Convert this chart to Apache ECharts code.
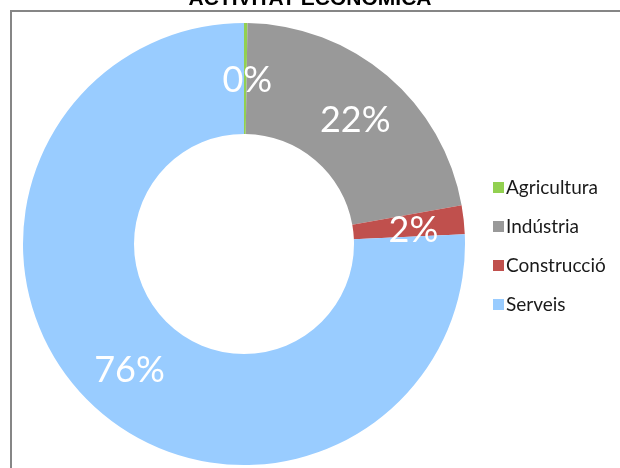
<!DOCTYPE html>
<html>
<head>
<meta charset="utf-8">
<script src="https://cdn.jsdelivr.net/npm/echarts@6/dist/echarts.min.js"></script>
<style>
  html, body { margin: 0; padding: 0; background: #fff; }
  #chart { width: 620px; height: 468px; }
</style>
</head>
<body>
<div id="chart"></div>
<script>
  // sectors and their shares (percent)
  const categories = ["Agricultura", "Indústria", "Construcció", "Serveis"];
  const shares = [0.25, 21.95, 2.1, 75.7];
  const labels = ["0%", "22%", "2%", "76%"];
  const colors = ["#92D050", "#999999", "#C0504D", "#99CCFF"];

  const chart = echarts.init(document.getElementById("chart"));

  let pieData = [];
  for (let i = 0; i < categories.length; i++) {
    pieData.push({
      name: categories[i],
      value: shares[i],
      itemStyle: { color: colors[i] },
      label: { formatter: labels[i] },
    });
  }

  const option = {
    animation: false,
    graphic: [
      // title, cut off at the top as in the original
      {
        type: "text",
        left: "center",
        top: -11,
        style: {
          text: "ACTIVITAT ECONÒMICA",
          font: "bold 21px 'Liberation Sans', Arial, sans-serif",
          fill: "#000",
        },
      },
      // frame of the chart area
      {
        type: "polyline",
        shape: { points: [[11, 468], [11, 11], [620, 11]] },
        style: { stroke: "#868686", lineWidth: 2, fill: null },
      },
    ],
    legend: {
      orient: "vertical",
      left: 488,
      top: 173,
      itemWidth: 11,
      itemHeight: 11,
      itemGap: 20,
      icon: "rect",
      textStyle: {
        fontFamily: "Lato, sans-serif",
        fontSize: 19,
        color: "#1a1a1a",
        padding: [0, 0, 0, -3],
      },
      data: categories,
    },
    series: [
      {
        type: "pie",
        center: [244, 244],
        radius: [110, 221],
        startAngle: 90,
        clockwise: true,
        silent: true,
        avoidLabelOverlap: false,
        label: {
          show: true,
          position: "inside",
          color: "#fff",
          fontFamily: "Lato, sans-serif",
          fontSize: 36,
          offset: [2, 5],
        },
        labelLine: { show: false },
        data: pieData,
      },
    ],
  };

  chart.setOption(option);
</script>
</body>
</html>
